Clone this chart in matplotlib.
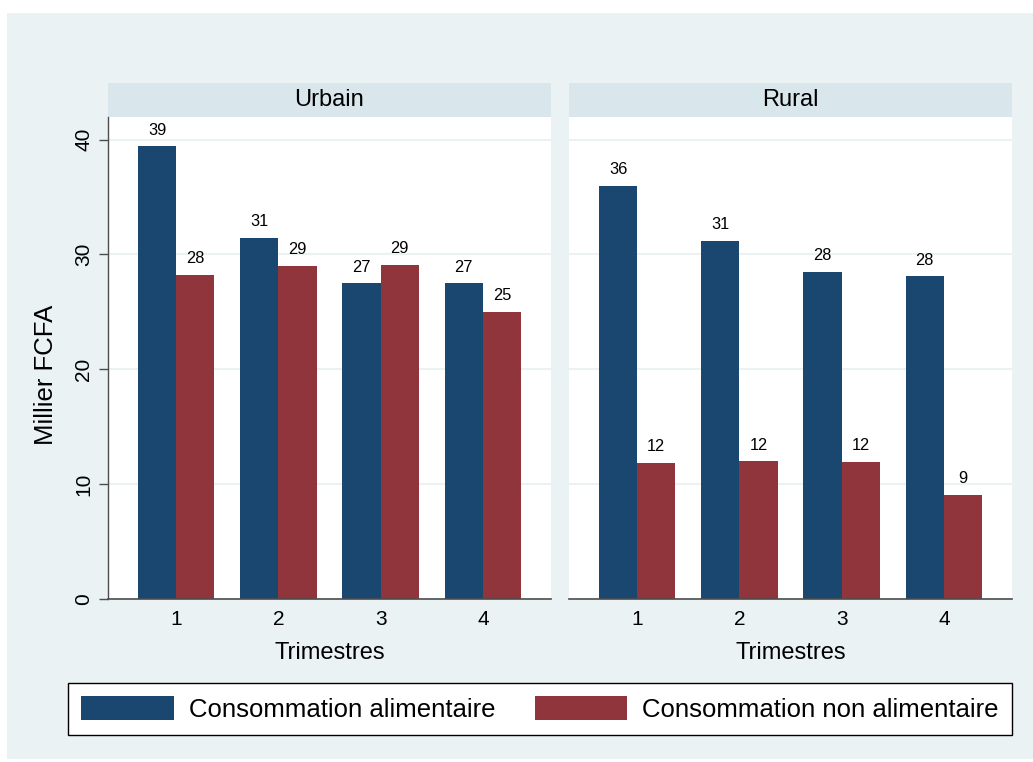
import matplotlib
matplotlib.use("Agg")
import matplotlib.pyplot as plt
from matplotlib.patches import Rectangle, Patch
import numpy as np

plt.rcParams['font.family'] = ['Liberation Sans', 'DejaVu Sans']

# données
trimestres = [1, 2, 3, 4]
zones = ["Urbain", "Rural"]
alimentaire = {
    "Urbain": [39.4, 31.45, 27.48, 27.48],
    "Rural": [35.97, 31.2, 28.45, 28.08],
}
non_alimentaire = {
    "Urbain": [28.2, 28.98, 29.07, 25.0],
    "Rural": [11.86, 11.98, 11.92, 9.04],
}
series_labels = ["Consommation alimentaire", "Consommation non alimentaire"]

BLEU = "#1a476f"
ROUGE = "#90353b"
FOND = "#eaf2f3"
BANDE = "#d9e6eb"
AXE = "#4d4d4d"

W, H = 1033, 762
fig = plt.figure(figsize=(W / 100, H / 100), dpi=100, facecolor="white")

# fond bleu clair du graphique
fig.patches.append(Rectangle((7 / W, 1 - 759 / H), 1 - 7 / W, (759 - 13) / H,
                             transform=fig.transFigure, facecolor=FOND,
                             edgecolor="none", zorder=-10))

bottom = 1 - 599 / H
height = (599 - 117) / H
width = 443 / W
lefts = [108 / W, 569 / W]
bw = 0.373

for i, zone in enumerate(zones):
    ax = fig.add_axes([lefts[i], bottom, width, height])
    ax.set_facecolor("white")
    x = np.array(trimestres)
    b1 = ax.bar(x - bw / 2, alimentaire[zone], bw, color=BLEU, zorder=3)
    b2 = ax.bar(x + bw / 2, non_alimentaire[zone], bw, color=ROUGE, zorder=3)
    for bars, vals in ((b1, alimentaire[zone]), (b2, non_alimentaire[zone])):
        for rect, v in zip(bars, vals):
            ax.annotate(f"{round(v):d}", (rect.get_x() + rect.get_width() / 2, v),
                        xytext=(0, 8.5), textcoords="offset points",
                        ha="center", va="baseline", fontsize=11.8)

    ax.set_xlim(0.333, 4.667)
    ax.set_ylim(0, 41.96)
    ax.set_yticks([0, 10, 20, 30, 40])
    ax.set_xticks(trimestres)
    ax.grid(axis="y", color=FOND, linewidth=1.5, zorder=0)
    ax.tick_params(axis="x", length=0, pad=8, labelsize=15)
    for s in ("top", "right"):
        ax.spines[s].set_visible(False)
    ax.spines["bottom"].set_color(AXE)
    ax.spines["bottom"].set_linewidth(1.2)
    ax.spines["bottom"].set_zorder(4)
    if i == 0:
        ax.spines["left"].set_color(AXE)
        ax.spines["left"].set_linewidth(1.0)
        ax.tick_params(axis="y", length=6.5, width=1, color=AXE, pad=4,
                       labelsize=15, labelrotation=90)
        for lab in ax.get_yticklabels():
            lab.set_va("center")
        ax.set_ylabel("Millier FCFA", fontsize=18.5)
        ax.yaxis.set_label_coords(-0.1135, 1 - (375 - 117) / 482)
    else:
        ax.spines["left"].set_visible(False)
        ax.tick_params(axis="y", length=0, labelleft=False)
    ax.set_xlabel("Trimestres", fontsize=17, labelpad=9)

    # bande du titre
    ax.add_patch(Rectangle((0, 1), 1, 34 / 482, transform=ax.transAxes,
                           facecolor=BANDE, edgecolor="none", clip_on=False))
    ax.text(0.5, 1 + 17 / 482, zone, transform=ax.transAxes, ha="center",
            va="center", fontsize=17)

handles = [Patch(facecolor=BLEU, edgecolor="none"),
           Patch(facecolor=ROUGE, edgecolor="none")]
leg = fig.legend(handles, series_labels, loc="center", ncol=2,
                 bbox_to_anchor=(540 / W, 1 - 709 / H), fontsize=18.5,
                 frameon=True, fancybox=False, edgecolor="black",
                 framealpha=1, handlelength=3.6, handleheight=1.05,
                 handletextpad=0.58, columnspacing=1.55, borderpad=0.5)
leg.get_frame().set_linewidth(1.0)

fig.savefig("out.png", dpi=100, facecolor="white")
